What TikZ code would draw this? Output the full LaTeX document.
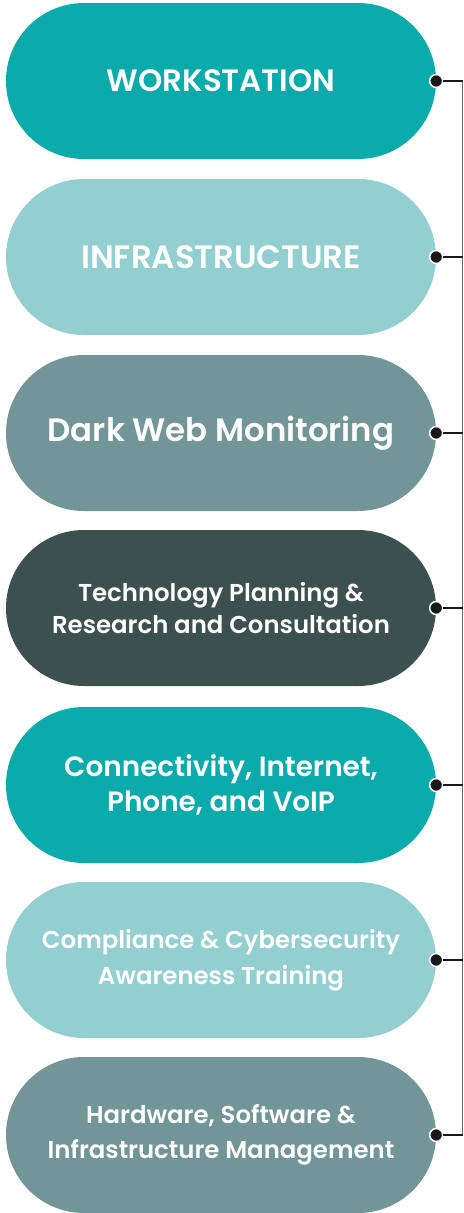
\documentclass[tikz,border=0pt]{standalone}
\usepackage{fontspec}
\setmainfont{Poppins}[BoldFont={Poppins SemiBold}]
\definecolor{tealA}{HTML}{0AABAA}
\definecolor{tealL}{HTML}{93CFD0}
\definecolor{slateG}{HTML}{729597}
\definecolor{slateD}{HTML}{3D5050}
\tikzset{
  pill/.style={rectangle,rounded corners=78bp,minimum width=430bp,minimum height=156bp,
    text=white,align=center,font=\bfseries},
  knob/.style={circle,fill=black!90,draw=white,line width=1.5bp,inner sep=0pt,minimum size=13bp},
}
\begin{document}
\begin{tikzpicture}[x=1bp,y=-1bp]
\useasboundingbox (0,0) rectangle (464,1213);

\node[pill,fill=tealA,font=\bfseries\fontsize{31}{32}\selectfont] (ws) at (221,81) {WORKSTATION};
\node[pill,fill=tealL,font=\bfseries\fontsize{32.5}{32}\selectfont] (inf) at (221,257) {INFRASTRUCTURE};
\node[pill,fill=slateG,font=\bfseries\fontsize{32.5}{30}\selectfont] (dwm) at (221,433) {Dark Web Monitoring};
\node[pill,fill=slateD,font=\bfseries\fontsize{24.5}{32}\selectfont] (tpr) at (221,608) {Technology Planning \&\\Research and Consultation};
\node[pill,fill=tealA,font=\bfseries\fontsize{28}{35}\selectfont] (civ) at (221,785) {Connectivity, Internet,\\Phone, and VoIP};
\node[pill,fill=tealL,font=\bfseries\fontsize{24.5}{36}\selectfont] (cct) at (221,960) {Compliance \& Cybersecurity\\Awareness Training};
\node[pill,fill=slateG,font=\bfseries\fontsize{24.5}{35}\selectfont] (hsi) at (221,1135) {Hardware, Software \&\\Infrastructure Management};

\node[knob] (k1) at (ws.east) {};
\node[knob] (k2) at (inf.east) {};
\node[knob] (k3) at (dwm.east) {};
\node[knob] (k4) at (tpr.east) {};
\node[knob] (k5) at (civ.east) {};
\node[knob] (k6) at (cct.east) {};
\node[knob] (k7) at (hsi.east) {};

\coordinate (e1) at (462.5,81);
\coordinate (e2) at (462.5,257);
\coordinate (e3) at (462.5,433);
\coordinate (e4) at (462.5,608);
\coordinate (e5) at (462.5,785);
\coordinate (e6) at (462.5,960);
\coordinate (e7) at (462.5,1135);

\draw[black!60,line width=1bp] (e1) -- (e7);
\draw[black!90,line width=1.6bp] (k1) -- (e1);
\draw[black!90,line width=1.6bp] (k2) -- (e2);
\draw[black!90,line width=1.6bp] (k3) -- (e3);
\draw[black!90,line width=1.6bp] (k4) -- (e4);
\draw[black!90,line width=1.6bp] (k5) -- (e5);
\draw[black!90,line width=1.6bp] (k6) -- (e6);
\draw[black!90,line width=1.6bp] (k7) -- (e7);

\end{tikzpicture}
\end{document}
